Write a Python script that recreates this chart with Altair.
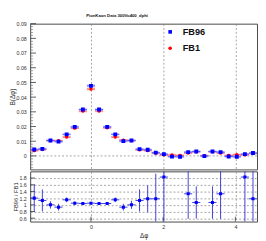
import altair as alt
import pandas as pd
import numpy as np

# ---------------- data ----------------
bin_centers = [-1.571, -1.346, -1.122, -0.898, -0.673, -0.449, -0.224, 0.0,
               0.224, 0.449, 0.673, 0.898, 1.122, 1.346, 1.571, 1.795,
               2.020, 2.244, 2.468, 2.693, 2.917, 3.142, 3.366, 3.590,
               3.815, 4.039, 4.264, 4.488]
half_width = 0.1122

fb96 = [0.0044, 0.0048, 0.0105, 0.0097, 0.0147, 0.0198, 0.0316, 0.0477,
        0.0316, 0.0198, 0.0147, 0.0101, 0.0105, 0.0046, 0.0042, 0.0022,
        0.0012, -0.0005, -0.0006, 0.0026, 0.0030, -0.0001, 0.0030, 0.0026,
        -0.0004, -0.0006, 0.0012, 0.0020]
fb1 = [0.0036, 0.0043, 0.0104, 0.0104, 0.0128, 0.0189, 0.0305, 0.0455,
       0.0306, 0.0191, 0.0128, 0.0108, 0.0104, 0.0041, 0.0036, 0.0019,
       0.0007, 0.0006, 0.0004, 0.0020, 0.0028, 0.0002, 0.0028, 0.0020,
       0.0003, 0.0008, 0.0007, 0.0017]
fb96_err = [0.0008, 0.0008, 0.0008, 0.0008, 0.0008, 0.0008, 0.0009, 0.0010,
            0.0009, 0.0008, 0.0008, 0.0008, 0.0008, 0.0008, 0.0008, 0.0008,
            0.0008, 0.0008, 0.0008, 0.0008, 0.0008, 0.0008, 0.0008, 0.0008,
            0.0008, 0.0008, 0.0008, 0.0008]
fb1_err = fb96_err

ratio = [1.20, 1.13, 1.00, 0.93, 1.15, 1.05, 1.04, 1.05, 1.04, 1.04, 1.15,
         0.93, 1.00, 1.13, 1.18, 1.18, 1.83, None, None, 1.33, 1.07, None,
         1.07, 1.33, None, None, 1.83, 1.18]
ratio_err = [0.40, 0.33, 0.11, 0.10, 0.07, 0.05, 0.04, 0.04, 0.04, 0.04, 0.07,
             0.10, 0.12, 0.33, 0.40, 0.75, 1.50, None, None, 0.75, 0.48, None,
             0.48, 0.75, None, None, 1.50, 1.00]

series_names = ["FB96", "FB1"]
series_colors = ["#0000ff", "#ff0000"]
chart_title = "PionKaon Data 300Vo400_dphi"
x_title = "Δφ"
top_y_title = "B(Δφ)"
bottom_y_title = "FB96 / FB1"

top_y_ticks = [0, 0.01, 0.02, 0.03, 0.04, 0.05, 0.06, 0.07, 0.08, 0.09]
bot_y_ticks = [0.6, 0.8, 1.0, 1.2, 1.4, 1.6, 1.8]
x_ticks = [0, 2, 4]

XDOM = [-1.683, 4.600]
TOP_YDOM = [-0.0092, 0.09]
BOT_YDOM = [0.5, 2.0]
W = 235
H_TOP = 151
H_BOT = 52
FONT = "Liberation Sans"
GRID = "#8a8a8a"

xs = alt.Scale(domain=XDOM, nice=False, zero=False)
ys_top = alt.Scale(domain=TOP_YDOM, nice=False, zero=False)
ys_bot = alt.Scale(domain=BOT_YDOM, nice=False, zero=False)

rows = []
for name, vals, errs in [("FB1", fb1, fb1_err), ("FB96", fb96, fb96_err)]:
    for xc, v, e in zip(bin_centers, vals, errs):
        rows.append(dict(series=name, x=xc, xlo=xc - half_width, xhi=xc + half_width,
                         y=v, ylo=v - e, yhi=v + e))
top_df = pd.DataFrame(rows)
red_df = top_df[top_df.series == "FB1"]
blue_df = top_df[top_df.series == "FB96"]

rat_rows = []
for xc, r, e in zip(bin_centers, ratio, ratio_err):
    if r is None:
        continue
    rat_rows.append(dict(x=xc, xlo=xc - half_width, xhi=xc + half_width,
                         r=r, rlo=r - e, rhi=r + e))
rat_df = pd.DataFrame(rat_rows)

# ---------------- top panel ----------------
x_top_axis = alt.Axis(values=x_ticks, grid=True, gridDash=[2, 2], gridColor=GRID,
                      gridWidth=0.8, gridOpacity=1, labels=False, ticks=False,
                      domain=False, title=None)
y_top_axis = alt.Axis(values=top_y_ticks, grid=False, ticks=False, domain=False,
                      labelFont=FONT, labelFontSize=5.5, labelColor="#333",
                      labelPadding=4, labelOverlap=False, labelFlush=False,
                      labelExpr="datum.value == 0 ? '0' : format(datum.value, '.2f')",
                      title=top_y_title, titleFont=FONT, titleFontSize=6.5,
                      titleFontWeight="normal", titleColor="#222", titlePadding=1)

X = lambda f: alt.X(f, scale=xs, axis=None)
YT = lambda f: alt.Y(f, scale=ys_top, axis=None)
YB = lambda f: alt.Y(f, scale=ys_bot, axis=None)

base_top = alt.Chart(pd.DataFrame({"x": [0.0], "y": [0.0]})).mark_point(opacity=0).encode(
    x=alt.X("x:Q", scale=xs, axis=x_top_axis),
    y=alt.Y("y:Q", scale=ys_top, axis=y_top_axis))

zero_line = alt.Chart(pd.DataFrame({"y": [0.0]})).mark_rule(
    color=GRID, strokeDash=[2, 2], strokeWidth=0.8
).encode(y=YT("y:Q"))

def err_layers(df, box_color, line_color):
    box = alt.Chart(df).mark_rect(color=box_color, opacity=0.45, clip=True).encode(
        x=X("xlo:Q"), x2="xhi:Q", y=YT("ylo:Q"), y2="yhi:Q")
    hbar = alt.Chart(df).mark_rule(color=line_color, strokeWidth=1, opacity=0.8, clip=True).encode(
        x=X("xlo:Q"), x2="xhi:Q", y=YT("y:Q"))
    vbar = alt.Chart(df).mark_rule(color=line_color, strokeWidth=1, opacity=0.8, clip=True).encode(
        x=X("x:Q"), y=YT("ylo:Q"), y2="yhi:Q")
    return [box, hbar, vbar]

red_pts = alt.Chart(red_df).mark_point(shape="circle", filled=True, size=12,
                                       color="#ff0000", opacity=1, clip=True).encode(
    x=X("x:Q"), y=YT("y:Q"))
blue_pts = alt.Chart(blue_df).mark_point(shape="square", filled=True, size=16,
                                         color="#0000ff", opacity=1, clip=True).encode(
    x=X("x:Q"), y=YT("y:Q"))

# inward ticks on left edge
top_major = pd.DataFrame({"t": top_y_ticks})
top_minor = pd.DataFrame({"t": [v for v in np.round(np.arange(-0.008, 0.0901, 0.002), 4)
                                if abs(round(v * 100) - v * 100) > 1e-6]})
tick_major_top = alt.Chart(top_major).mark_rule(color="#333", strokeWidth=0.8).encode(
    x=alt.value(0), x2=alt.value(6), y=YT("t:Q"))
tick_minor_top = alt.Chart(top_minor).mark_rule(color="#666", strokeWidth=0.6).encode(
    x=alt.value(0), x2=alt.value(3), y=YT("t:Q"))

# legend
leg_df = pd.DataFrame({"name": series_names, "color": series_colors,
                       "shape": ["square", "circle"], "yy": [8.5, 25.5]})
leg_marks = alt.Chart(leg_df).mark_point(filled=True, opacity=1, size=14).encode(
    x=alt.value(145), y=alt.Y("yy:Q", scale=None, axis=None),
    color=alt.Color("color:N", scale=None),
    shape=alt.Shape("shape:N", scale=None))
leg_text = alt.Chart(leg_df).mark_text(align="left", baseline="middle", font=FONT,
                                       fontSize=9.5, fontWeight="bold", color="#111").encode(
    x=alt.value(158), y=alt.Y("yy:Q", scale=None, axis=None), text="name:N")

top = alt.layer(
    base_top, zero_line, tick_minor_top, tick_major_top,
    *err_layers(red_df, "#ff9999", "#ff3333"),
    red_pts,
    *err_layers(blue_df, "#9999ff", "#4040ff"),
    blue_pts, leg_marks, leg_text
).resolve_axis(x="independent", y="independent").properties(
    width=W, height=H_TOP,
    title=alt.TitleParams(chart_title, font=FONT, fontSize=4.4, fontWeight="bold",
                          color="#111", anchor="start", frame="group", dx=58, offset=4)
)

# ---------------- bottom panel ----------------
x_bot_axis = alt.Axis(values=x_ticks, grid=True, gridDash=[2, 2], gridColor=GRID,
                      gridWidth=0.8, gridOpacity=1, ticks=False, domain=False,
                      labelFont=FONT, labelFontSize=5.5, labelColor="#333",
                      labelPadding=3, labelOverlap=False, labelFlush=False,
                      title=x_title, titleFont=FONT, titleFontSize=6.5,
                      titleFontWeight="normal", titleColor="#222", titlePadding=3)
y_bot_axis = alt.Axis(values=bot_y_ticks, grid=True, gridDash=[2, 2], gridColor=GRID,
                      gridWidth=0.8, gridOpacity=1, ticks=False, domain=False,
                      labelFont=FONT, labelFontSize=5.5, labelColor="#333",
                      labelPadding=4, labelOverlap=False, labelFlush=False,
                      labelExpr="format(datum.value, '.1f') == '1.0' ? '1' : format(datum.value, '.1f')",
                      title=bottom_y_title, titleFont=FONT, titleFontSize=6,
                      titleFontWeight="normal", titleColor="#222", titlePadding=1)

bot_base = alt.Chart(pd.DataFrame({"x": [0.0], "r": [1.0]})).mark_point(opacity=0).encode(
    x=alt.X("x:Q", scale=xs, axis=x_bot_axis),
    y=alt.Y("r:Q", scale=ys_bot, axis=y_bot_axis))

rat_h = alt.Chart(rat_df).mark_rule(color="#3c3cd8", strokeWidth=1, clip=True).encode(
    x=X("xlo:Q"), x2="xhi:Q", y=YB("r:Q"))
rat_v = alt.Chart(rat_df).mark_rule(color="#3c3cd8", strokeWidth=1, clip=True).encode(
    x=X("x:Q"), y=YB("rlo:Q"), y2="rhi:Q")
rat_p = alt.Chart(rat_df).mark_point(shape="square", filled=True, size=10,
                                     color="#0000ff", opacity=1, clip=True).encode(
    x=X("x:Q"), y=YB("r:Q"))

bot_major_y = pd.DataFrame({"t": bot_y_ticks})
tick_major_bot = alt.Chart(bot_major_y).mark_rule(color="#333", strokeWidth=0.8).encode(
    x=alt.value(0), x2=alt.value(5), y=YB("t:Q"))
bot_major_x = pd.DataFrame({"t": x_ticks})
tick_major_bx = alt.Chart(bot_major_x).mark_rule(color="#333", strokeWidth=0.8).encode(
    x=X("t:Q"), y=alt.value(H_BOT), y2=alt.value(H_BOT - 5))

bottom = alt.layer(bot_base, tick_major_bot, tick_major_bx, rat_h, rat_v, rat_p
                   ).resolve_axis(x="independent", y="independent").properties(
    width=W, height=H_BOT)

chart = alt.vconcat(top, bottom, spacing=0).properties(padding=0).configure_view(
    stroke="#444", strokeWidth=1
)

chart.save("out.html", embed_options={"renderer": "svg", "actions": False})
